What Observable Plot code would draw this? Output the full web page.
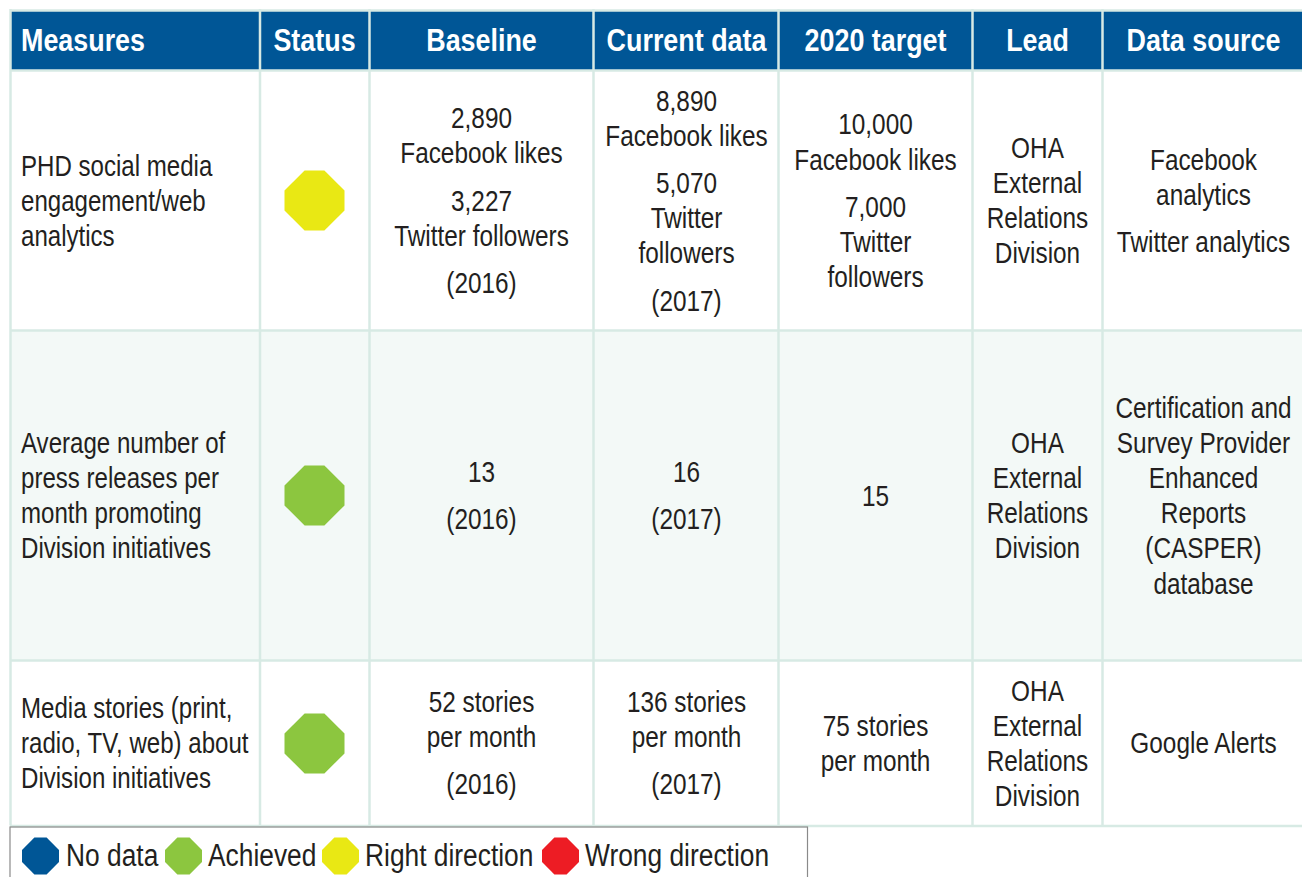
<!DOCTYPE html>
<html>
<head>
<meta charset="utf-8">
<script src="https://cdn.jsdelivr.net/npm/d3@7"></script>
<script src="https://cdn.jsdelivr.net/npm/@observablehq/plot@0.6"></script>
<style>
html,body{margin:0;padding:0;background:#fff;overflow:hidden}
svg{display:block}
</style>
</head>
<body>
<div id="chart"></div>
<script>
// ---- content ----
const columns = ["Measures","Status","Baseline","Current data","2020 target","Lead","Data source"];
const measures = [
  [["PHD social media","engagement/web","analytics"]],
  [["Average number of","press releases per","month promoting","Division initiatives"]],
  [["Media stories (print,","radio, TV, web) about","Division initiatives"]]
];
const status = ["Right direction","Achieved","Achieved"];
const baseline = [
  [["2,890","Facebook likes"],["3,227","Twitter followers"],["(2016)"]],
  [["13"],["(2016)"]],
  [["52 stories","per month"],["(2016)"]]
];
const current = [
  [["8,890","Facebook likes"],["5,070","Twitter","followers"],["(2017)"]],
  [["16"],["(2017)"]],
  [["136 stories","per month"],["(2017)"]]
];
const target = [
  [["10,000","Facebook likes"],["7,000","Twitter","followers"]],
  [["15"]],
  [["75 stories","per month"]]
];
const lead = [
  [["OHA","External","Relations","Division"]],
  [["OHA","External","Relations","Division"]],
  [["OHA","External","Relations","Division"]]
];
const source = [
  [["Facebook","analytics"],["Twitter analytics"]],
  [["Certification and","Survey Provider","Enhanced","Reports","(CASPER)","database"]],
  [["Google Alerts"]]
];
const legendNames = ["No data","Achieved","Right direction","Wrong direction"];
const legendColors = ["#005696","#8cc63f","#e9e814","#ed1c24"];

// ---- layout (page pixels) ----
const W = 1302, H = 877;
const colEdges = [10,259.5,369,593,778,972,1102,1302];
const colCenters = [20.5,314,481,686,875,1037,1203];
const rowEdges = [10,70,330,660,825.5];
const rowCenters = [201,496,743.5];
const dotCenters = [200,495,743];
const leading = 35.1, paragraphGap = 47.3;
const legendDots = [40,183,340,560];
const legendText = [65.5,207.5,364.5,584.5];
const legendY = 855.5;
const condense = 0.84, condenseFirst = 0.83, condenseLegend = 0.85;

const octagon = {
  draw(ctx, size) {
    const r = Math.sqrt(size / Math.PI), k = r * 0.33;
    ctx.moveTo(-k,-r); ctx.lineTo(k,-r); ctx.lineTo(r,-k); ctx.lineTo(r,k);
    ctx.lineTo(k,r); ctx.lineTo(-k,r); ctx.lineTo(-r,k); ctx.lineTo(-r,-k);
    ctx.closePath();
  }
};

function cellLines(cell, x, row) {
  const out = [];
  const total = cell.reduce((s,p,i) => s + (p.length-1)*leading + (i ? paragraphGap : 0), 0);
  let y = rowCenters[row] - total/2;
  cell.forEach((p,i) => {
    if (i) y += paragraphGap;
    p.forEach((t,j) => { if (j) y += leading; out.push({text:t,x,y}); });
  });
  return out;
}
const bodyCols = [measures,null,baseline,current,target,lead,source];
const bodyText = bodyCols.flatMap((col,c) => col ? col.flatMap((cell,r) => cellLines(cell,colCenters[c],r)) : []);
const headerText = columns.map((t,c) => ({text:t,x:colCenters[c]}));
const statusDots = status.map((s,r) => ({status:s,x:colCenters[1],y:dotCenters[r]}));
const legendRows = legendNames.map((n,i) => ({name:n,dx:legendDots[i],tx:legendText[i]}));

const font = "'Liberation Sans',sans-serif";
const ink = "#231f20", gridC = "#d7eae4";

const chart = Plot.plot({
  width: W, height: H, margin: 0,
  style: {background:"#fff"},
  x: {domain:[0,W], range:[0,W], axis:null},
  y: {domain:[0,H], range:[0,H], axis:null},
  color: {domain:legendNames, range:legendColors},
  marks: [
    Plot.rect([0], {x1:10,x2:W,y1:rowEdges[2],y2:rowEdges[3],fill:"#f3f9f7"}),
    Plot.rect([0], {x1:10,x2:W,y1:rowEdges[0],y2:rowEdges[1],fill:"#005696"}),
    Plot.ruleY(rowEdges, {x1:10,x2:W,y:d=>d,stroke:gridC,strokeWidth:2.5}),
    Plot.ruleX(colEdges.slice(0,-1), {x:d=>d,y1:9,y2:rowEdges[4],stroke:gridC,strokeWidth:2.5}),
    Plot.text(headerText.filter(d=>d.text==="Measures"), {x:"x",y:()=>40,text:"text",textAnchor:"start",fontFamily:font,fontWeight:"bold",fontSize:32,fill:"#fff"}),
    Plot.text(headerText.filter(d=>d.text!=="Measures"), {x:"x",y:()=>40,text:"text",textAnchor:"middle",fontFamily:font,fontWeight:"bold",fontSize:32,fill:"#fff"}),
    Plot.text(bodyText.filter(d=>d.x===colCenters[0]), {x:"x",y:"y",text:"text",textAnchor:"start",fontFamily:font,fontSize:29,fill:ink,className:"first"}),
    Plot.text(bodyText.filter(d=>d.x!==colCenters[0]), {x:"x",y:"y",text:"text",textAnchor:"middle",fontFamily:font,fontSize:29,fill:ink}),
    Plot.dot(statusDots, {x:"x",y:"y",r:30,symbol:octagon,fill:"status",stroke:"none"}),
    Plot.rect([0], {x1:10,x2:807.5,y1:827,y2:H+5,fill:"none",stroke:"#8a8a8a",strokeWidth:1.2}),
    Plot.dot(legendRows, {x:"dx",y:()=>legendY,r:18.5,symbol:octagon,fill:"name",stroke:"none"}),
    Plot.text(legendRows, {x:"tx",y:()=>legendY,text:"name",textAnchor:"start",fontFamily:font,fontSize:31,fill:ink,className:"legend"})
  ]
});
document.getElementById("chart").append(chart);
// the reference face is condensed: squeeze each text's glyphs horizontally
d3.select(chart).selectAll("text").each(function() {
  const g = this.closest("g");
  const k = g && g.classList.contains("first") ? condenseFirst
          : g && g.classList.contains("legend") ? condenseLegend : condense;
  this.setAttribute("textLength", this.getComputedTextLength() * k);
  this.setAttribute("lengthAdjust", "spacingAndGlyphs");
});
</script>
</body>
</html>
